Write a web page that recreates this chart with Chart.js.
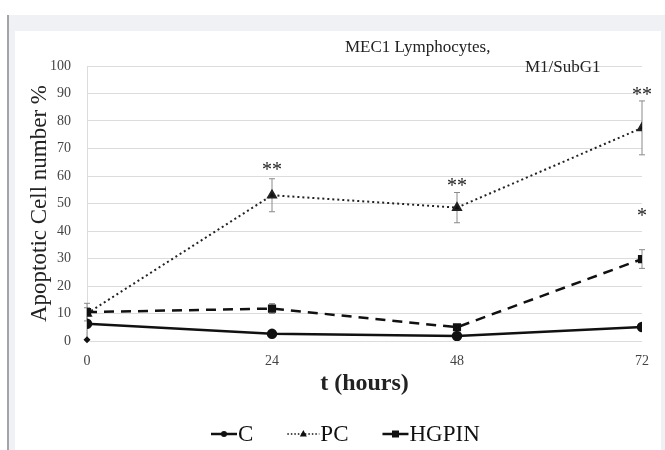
<!DOCTYPE html>
<html>
<head>
<meta charset="utf-8">
<script src="https://cdn.jsdelivr.net/npm/chart.js@4"></script>
<style>
  html, body { margin: 0; padding: 0; background: #fff; }
  #frame {
    position: absolute; left: 7px; top: 15px; width: 658px; height: 435px;
    background: #f0f1f5; border-left: 2px solid #a3a3a8; box-sizing: border-box;
  }
  #panel {
    position: absolute; left: 15px; top: 31px; width: 646px; height: 419px; background: #fff;
  }
</style>
</head>
<body>
<div id="frame"></div>
<div id="panel"><canvas id="chart" width="646" height="419"></canvas></div>
<script>
// time points (hours)
const hours = [0, 24, 48, 72];
const xTicks = [0, 24, 48, 72];

// apoptotic cell number % per group, with error bars
const cValues = [6.3, 2.6, 1.8, 5.1];
const cErr = [5.8, 0, 0, 0];
const pcValues = [10, 53, 48.5, 77.5];
const pcErr = [0, 6, 5.5, 9.8];
const hgpinValues = [10.5, 11.8, 5, 29.8];
const hgpinErr = [3.2, 1.8, 0, 3.4];

// significance marks: text and height on the y scale
const pcStars = ['', '**', '**', '**'];
const pcStarY = [null, 63.5, 57.5, 90.5];
const hgpinStars = ['', '', '', '*'];
const hgpinStarY = [null, null, null, 46.5];

const serif = '"Liberation Serif", "DejaVu Serif", serif';

function pts(vals) {
  return hours.map((h, i) => ({ x: h, y: vals[i] }));
}

const overlay = {
  id: 'overlay',
  beforeDatasetsDraw(chart) {
    // error bars
    const ctx = chart.ctx;
    const xs = chart.scales.x, ys = chart.scales.y;
    ctx.save();
    ctx.strokeStyle = '#8a8a8a';
    ctx.lineWidth = 1;
    chart.data.datasets.forEach(ds => {
      ds.err.forEach((e, i) => {
        if (!e) return;
        const px = xs.getPixelForValue(hours[i]);
        const top = ys.getPixelForValue(ds.vals[i] + e);
        const bot = ys.getPixelForValue(ds.vals[i] - e);
        ctx.beginPath();
        ctx.moveTo(px, top); ctx.lineTo(px, bot);
        ctx.moveTo(px - 3, top); ctx.lineTo(px + 3, top);
        ctx.moveTo(px - 3, bot); ctx.lineTo(px + 3, bot);
        ctx.stroke();
        if (ds.label === 'C') {
          ctx.fillStyle = '#111';
          ctx.beginPath();
          ctx.moveTo(px, bot - 3.5); ctx.lineTo(px + 3.5, bot);
          ctx.lineTo(px, bot + 3.5); ctx.lineTo(px - 3.5, bot);
          ctx.closePath(); ctx.fill();
        }
      });
    });
    ctx.restore();
  },
  afterDraw(chart) {
    const ctx = chart.ctx;
    const xs = chart.scales.x, ys = chart.scales.y;
    ctx.save();
    ctx.fillStyle = '#222';
    ctx.textAlign = 'center';
    ctx.textBaseline = 'middle';

    // asterisks
    ctx.font = '20px ' + serif;
    const stars = [[pcStars, pcStarY], [hgpinStars, hgpinStarY]];
    stars.forEach(([txt, yv]) => {
      txt.forEach((t, i) => {
        if (!t) return;
        ctx.fillText(t, xs.getPixelForValue(hours[i]), ys.getPixelForValue(yv[i]) + 4);
      });
    });

    // title, two lines
    ctx.font = '17px ' + serif;
    ctx.textAlign = 'left';
    ctx.fillText('MEC1 Lymphocytes,', 330, 17);
    ctx.fillText('M1/SubG1', 510, 37);

    // legend
    ctx.font = '23px ' + serif;
    ctx.strokeStyle = '#111';
    ctx.fillStyle = '#111';
    const ly = 403;
    let lx = 196;
    chart.data.datasets.forEach(ds => {
      const w = ds.label === 'PC' ? 32 : 26;
      ctx.lineWidth = ds.label === 'PC' ? 1.5 : 2.5;
      ctx.setLineDash(ds.label === 'PC' ? [1.5, 2] : []);
      ctx.beginPath();
      ctx.moveTo(lx, ly); ctx.lineTo(lx + w, ly);
      ctx.stroke();
      ctx.setLineDash([]);
      const cx = lx + w / 2;
      ctx.beginPath();
      if (ds.pointStyle === 'circle') {
        ctx.arc(cx, ly, 3, 0, Math.PI * 2);
      } else if (ds.pointStyle === 'triangle') {
        ctx.moveTo(cx, ly - 4); ctx.lineTo(cx + 3.5, ly + 2.5); ctx.lineTo(cx - 3.5, ly + 2.5);
        ctx.closePath();
      } else {
        ctx.rect(cx - 3.5, ly - 3.5, 7, 7);
      }
      ctx.fill();
      ctx.textAlign = 'left';
      ctx.fillText(ds.label, lx + w + 1, ly + 1);
      lx += w + 1 + ctx.measureText(ds.label).width + 34;
    });
    ctx.restore();
  }
};

new Chart(document.getElementById('chart'), {
  type: 'line',
  data: {
    datasets: [
      {
        label: 'C', data: pts(cValues), vals: cValues, err: cErr,
        borderColor: '#111', backgroundColor: '#111', borderWidth: 2.5,
        pointStyle: 'circle', pointRadius: 4, order: 1
      },
      {
        label: 'PC', data: pts(pcValues), vals: pcValues, err: pcErr,
        borderColor: '#222', backgroundColor: '#111', borderWidth: 2, borderDash: [2, 3],
        pointStyle: 'triangle', pointRadius: 4.5, order: 3
      },
      {
        label: 'HGPIN', data: pts(hgpinValues), vals: hgpinValues, err: hgpinErr,
        borderColor: '#111', backgroundColor: '#111', borderWidth: 2.5, borderDash: [10, 7],
        pointStyle: 'rect', pointRadius: 4, order: 2
      }
    ]
  },
  options: {
    responsive: false,
    animation: false,
    layout: { padding: { top: 35, right: 15, left: 0, bottom: 0 } },
    plugins: { legend: { display: false }, tooltip: { enabled: false } },
    elements: { line: { tension: 0 } },
    scales: {
      x: {
        type: 'linear', min: 0, max: 72,
        afterBuildTicks: s => { s.ticks = xTicks.map(v => ({ value: v })); },
        afterFit: s => { s.height = 109; },
        grid: { display: false, drawTicks: false },
        border: { display: false },
        ticks: { padding: 12, color: '#444', font: { family: serif, size: 14 } },
        title: {
          display: true, text: 't (hours)', color: '#222',
          font: { family: serif, size: 24, weight: 'bold' }, padding: { top: 0, bottom: 52 }
        }
      },
      y: {
        min: 0, max: 100,
        afterFit: s => { s.width = 72; },
        grid: { color: '#dcdcdc', lineWidth: 1, drawTicks: false },
        border: { display: true, color: '#dcdcdc' },
        ticks: { stepSize: 10, padding: 16, color: '#444', font: { family: serif, size: 14 } },
        title: {
          display: true, text: 'Apoptotic Cell number %', color: '#222',
          font: { family: serif, size: 23 }, padding: { top: 11, bottom: 0 }
        }
      }
    }
  },
  plugins: [overlay]
});
</script>
</body>
</html>
